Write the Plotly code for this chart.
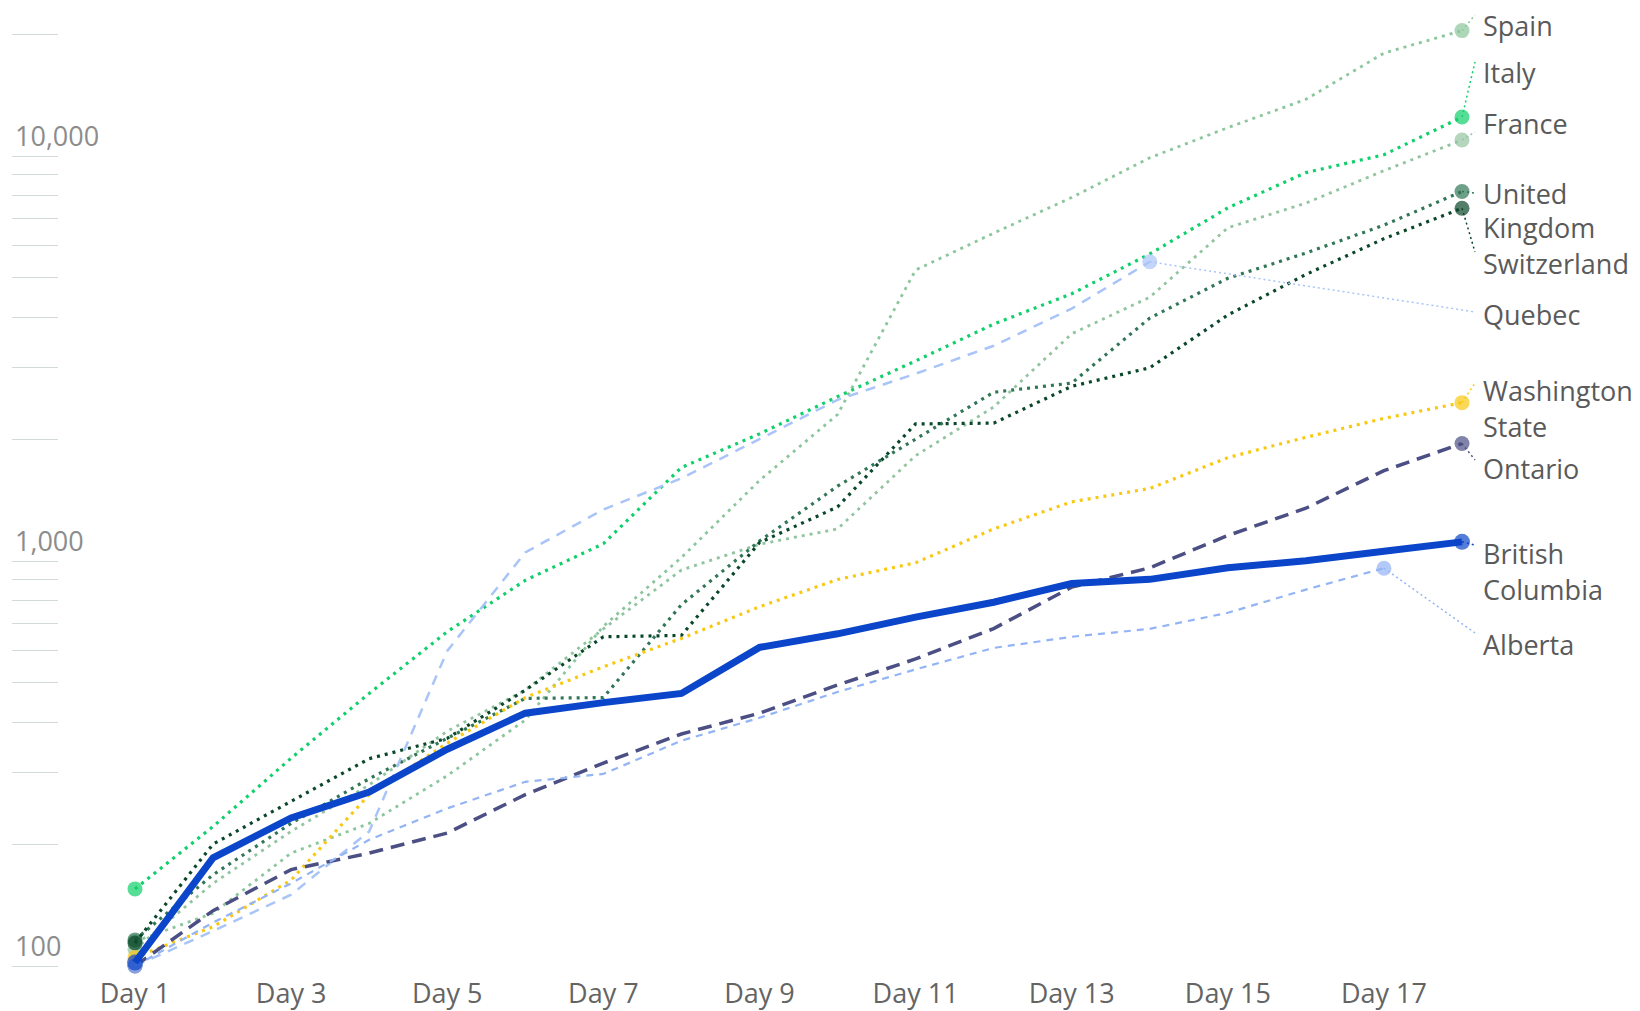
import plotly.graph_objects as go

# ---------------- data ----------------
days = list(range(1, 19))
tick_days = list(range(1, 18, 2))
tick_day_labels = [f"Day {d}" for d in tick_days]

y_tick_vals = [100, 200, 300, 400, 500, 600, 700, 800, 900,
               1000, 2000, 3000, 4000, 5000, 6000, 7000, 8000, 9000,
               10000, 20000]
y_tick_text = ["100"] + [""] * 8 + ["1,000"] + [""] * 8 + ["10,000", ""]

spain = [115, 135, 190, 225, 295, 405, 690, 1020, 1580, 2300, 5230, 6450,
         7900, 9900, 11750, 13800, 17950, 20400]
italy = [155, 221, 326, 471, 669, 896, 1103, 1702, 2060, 2546, 3119, 3845,
         4570, 5730, 7447, 9100, 10070, 12480]
france = [110, 160, 215, 280, 380, 480, 680, 950, 1100, 1200, 1820, 2400,
          3640, 4480, 6650, 7650, 9200, 10950]
uk = [116, 168, 225, 290, 365, 458, 460, 780, 1120, 1530, 2000, 2610,
      2750, 3980, 4990, 5760, 6750, 8170]
switzerland = [114, 200, 255, 325, 365, 480, 650, 655, 1110, 1360, 2180, 2190,
               2700, 3000, 4050, 5100, 6250, 7430]
quebec = [100, 122, 150, 215, 600, 1050, 1340, 1600, 2000, 2500, 2900, 3400,
          4200, 5480]
washington = [105, 125, 163, 265, 355, 460, 548, 644, 771, 900, 990, 1200,
              1400, 1510, 1800, 2020, 2250, 2460]
ontario = [100, 137, 173, 190, 213, 265, 317, 374, 421, 494, 573, 681,
           862, 962, 1156, 1350, 1671, 1950]
bc = [102, 185, 232, 269, 343, 421, 447, 471, 612, 661, 727, 791,
      880, 901, 962, 1002, 1057, 1115]
alberta = [100, 128, 160, 205, 245, 285, 298, 360, 410, 475, 540, 610,
           650, 680, 745, 850, 960]

# ---------------- styles ----------------
DOT = "3px,5px"
series = [
    # name, values, color, width, dash, marker size, label lines, label page-y (per line), connector end page-y
    ("Spain", spain, "#8cc69d", 2.8, DOT, 15, ["Spain"], [25], 15),
    ("France", france, "#93c4a0", 2.8, DOT, 15, ["France"], [124], 132),
    ("Italy", italy, "#0fd06a", 3.2, DOT, 15, ["Italy"], [73], 62),
    ("United Kingdom", uk, "#317656", 3.2, DOT, 15, ["United", "Kingdom"], [193, 228], 193),
    ("Switzerland", switzerland, "#0a472a", 3.2, DOT, 15, ["Switzerland"], [263], 252),
    ("Quebec", quebec, "#a9c5f8", 2.5, "10px,8px", 15, ["Quebec"], [314], 312),
    ("Washington State", washington, "#f8c912", 3.2, DOT, 15, ["Washington", "State"], [390, 426], 383),
    ("Ontario", ontario, "#4b4f83", 3.5, "14px,8px", 15, ["Ontario"], [469], 460),
    ("Alberta", alberta, "#93b4f5", 2.2, "7px,6px", 15, ["Alberta"], [644], 633),
    ("British Columbia", bc, "#0b45c9", 7, "solid", 16, ["British", "Columbia"], [553, 589], 545),
]

# ---------------- geometry ----------------
# The page body has an 8px margin, so figure px = page px - 8.
OFF = 8
W, H = 1640 - OFF, 1011 - OFF
ML, MR, MT, MB = 12 - OFF, 0, 0, 36
PW, PH = W - ML - MR, H - MT - MB
x_range = [-0.5757, 20.280]
y_range = [1.97778, 4.36543]  # log10 units
LABEL_PAGE_X = 1482
CONN_PAGE_X = 1475
FONT = "Open Sans"


def px_to_x(page_px):
    px = page_px - OFF
    return x_range[0] + (px - ML) / PW * (x_range[1] - x_range[0])


def py_to_val(page_py):
    py = page_py - OFF
    return 10 ** (y_range[1] - (py - MT) / PH * (y_range[1] - y_range[0]))


def py_to_paper(page_py):
    return 1 - (page_py - OFF - MT) / PH


fig = go.Figure()

for name, vals, color, width, dash, msize, lines, lab_pys, conn_py in series:
    n = len(vals)
    xs = days[:n]
    sizes = [msize] + [0] * (n - 2) + [msize]
    fig.add_trace(go.Scatter(
        x=[xs[-1], px_to_x(CONN_PAGE_X)], y=[vals[-1], py_to_val(conn_py)],
        mode="lines", line=dict(color=color, width=1.5, dash="2px,3px"),
        hoverinfo="skip", showlegend=False, cliponaxis=False))
    fig.add_trace(go.Scatter(
        x=xs, y=vals, name=name, mode="lines+markers",
        line=dict(color=color, width=width, dash=dash),
        marker=dict(size=sizes, color=color, line=dict(width=0)),
        cliponaxis=False, showlegend=False))
    for txt, lab_py in zip(lines, lab_pys):
        fig.add_annotation(
            x=px_to_x(LABEL_PAGE_X), xref="x",
            y=py_to_paper(lab_py), yref="paper",
            text=txt, showarrow=False, xanchor="left", yanchor="middle",
            borderpad=0,
            font=dict(family=FONT, size=27, color="#5a5a5a"))

fig.update_layout(
    width=W, height=H,
    margin=dict(l=ML, r=MR, t=MT, b=MB),
    paper_bgcolor="white", plot_bgcolor="white",
    showlegend=False,
    font=dict(family=FONT),
    xaxis=dict(range=x_range, tickmode="array", tickvals=tick_days,
               ticktext=tick_day_labels, showgrid=False, zeroline=False,
               showline=False, ticks="",
               tickfont=dict(family=FONT, size=27, color="#646464")),
    yaxis=dict(type="log", range=y_range, tickmode="array",
               tickvals=y_tick_vals, ticktext=y_tick_text,
               showgrid=False, zeroline=False, showline=False,
               ticks="inside", ticklen=46, tickwidth=1, tickcolor="#d3dbd6",
               ticklabelposition="inside top",
               tickfont=dict(family=FONT, size=27, color="#8c8c8c")),
)

fig.write_html("out.html")
